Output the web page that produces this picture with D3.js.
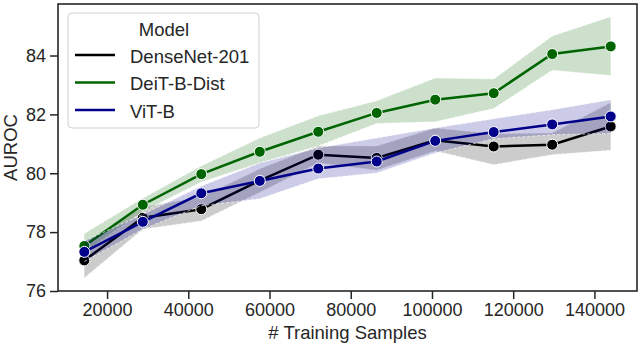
<!DOCTYPE html>
<html lang="en">
	<head>
		<meta charset="UTF-8">
		<title>AUROC vs training samples</title>
		<script src="https://cdnjs.cloudflare.com/ajax/libs/d3/7.8.5/d3.min.js"></script>
		<style>
			body {margin: 0; background: #fff;}
			text {font-family: "Liberation Sans", Arial, sans-serif; fill: #262626;}
		</style>
		<script>
var samples = [14400, 28800, 43200, 57600, 72000, 86400, 100800, 115200, 129600, 144000];

var models = ["DenseNet-201", "DeiT-B-Dist", "ViT-B"];
var colors = ["#000000", "#006400", "#00008b"];

var densenet   = [77.04, 78.49, 78.78, 79.75, 80.63, 80.52, 81.12, 80.91, 80.97, 81.59];
var densenetLo = [76.44, 78.10, 78.38, 79.35, 80.35, 80.10, 80.76, 80.29, 80.63, 80.78];
var densenetHi = [77.65, 78.85, 79.20, 80.15, 80.93, 80.93, 81.54, 81.34, 81.37, 82.40];

var deit   = [77.53, 78.93, 79.97, 80.73, 81.41, 82.05, 82.50, 82.72, 84.05, 84.31];
var deitLo = [77.30, 78.70, 79.70, 80.35, 80.93, 81.69, 81.75, 82.20, 83.50, 83.32];
var deitHi = [77.95, 79.15, 80.25, 81.20, 81.95, 82.46, 83.24, 83.20, 84.66, 85.32];

var vit   = [77.33, 78.35, 79.32, 79.74, 80.16, 80.40, 81.10, 81.40, 81.66, 81.93];
var vitLo = [77.00, 78.10, 78.90, 79.13, 79.81, 80.01, 80.69, 81.17, 81.31, 81.35];
var vitHi = [77.70, 78.60, 79.57, 80.35, 80.86, 81.20, 81.54, 81.85, 82.16, 82.50];

var xTicks = [20000, 40000, 60000, 80000, 100000, 120000, 140000];
var yTicks = [76, 78, 80, 82, 84];

function drawChart() {
	var svg = d3.select("#chart");
	var left = 58, right = 637, top = 4, bottom = 291;

	var x = d3.scaleLinear().domain([7920, 150480]).range([left, right]);
	var y = d3.scaleLinear().domain([76, 85.75]).range([bottom, top]);

	var series = [
		{mean: densenet, lo: densenetLo, hi: densenetHi},
		{mean: deit, lo: deitLo, hi: deitHi},
		{mean: vit, lo: vitLo, hi: vitHi}
	];

	var area = d3.area()
		.x(function(d) {return x(d.x);})
		.y0(function(d) {return y(d.lo);})
		.y1(function(d) {return y(d.hi);});
	var line = d3.line()
		.x(function(d) {return x(d.x);})
		.y(function(d) {return y(d.y);});

	var plot = svg.append("g");

	series.forEach(function(s, k) {
		var band = samples.map(function(v, i) {return {x: v, lo: s.lo[i], hi: s.hi[i]};});
		var pts = samples.map(function(v, i) {return {x: v, y: s.mean[i]};});
		var c = d3.color(colors[k]);

		plot.append("path").datum(band)
			.attr("d", area)
			.attr("fill", c).attr("fill-opacity", 0.2);

		["lo", "hi"].forEach(function(key) {
			plot.append("path")
				.datum(band.map(function(d) {return {x: d.x, y: d[key]};}))
				.attr("d", line)
				.attr("fill", "none").attr("stroke", "#fff")
				.attr("stroke-width", 0.8).attr("stroke-dasharray", "3,2")
				.attr("stroke-opacity", 0.8);
		});

		plot.append("path").datum(pts)
			.attr("d", line)
			.attr("fill", "none").attr("stroke", colors[k]).attr("stroke-width", 2.5);

		plot.selectAll(null).data(pts).enter().append("circle")
			.attr("cx", function(d) {return x(d.x);})
			.attr("cy", function(d) {return y(d.y);})
			.attr("r", 5.5)
			.attr("fill", colors[k]).attr("stroke", "#fff").attr("stroke-width", 1);
	});

	// axes
	var xAxis = d3.axisBottom(x).tickValues(xTicks).tickSize(8).tickPadding(4).tickFormat(d3.format("d"));
	var yAxis = d3.axisLeft(y).tickValues(yTicks).tickSize(8).tickPadding(4).tickFormat(d3.format("d"));

	var gx = svg.append("g").attr("transform", "translate(0," + bottom + ")").call(xAxis);
	var gy = svg.append("g").attr("transform", "translate(" + left + ",0)").call(yAxis);
	[gx, gy].forEach(function(g) {
		g.select(".domain").remove();
		g.selectAll(".tick line").attr("stroke", "#262626").attr("stroke-width", 1.5);
		g.selectAll(".tick text").attr("font-size", 18).attr("fill", "#262626");
	});

	svg.append("rect")
		.attr("x", left).attr("y", top)
		.attr("width", right - left).attr("height", bottom - top)
		.attr("fill", "none").attr("stroke", "#262626").attr("stroke-width", 1.6);

	svg.append("text")
		.attr("x", (left + right) / 2).attr("y", 339)
		.attr("text-anchor", "middle").attr("font-size", 18.5)
		.text("# Training Samples");

	svg.append("text")
		.attr("transform", "translate(17," + ((top + bottom) / 2) + ") rotate(-90)")
		.attr("text-anchor", "middle").attr("font-size", 18.5)
		.text("AUROC");

	// legend
	var lg = svg.append("g");
	lg.append("rect")
		.attr("x", 68).attr("y", 13).attr("width", 191).attr("height", 115)
		.attr("rx", 4).attr("fill", "#fff").attr("fill-opacity", 0.8)
		.attr("stroke", "#d0d0d0").attr("stroke-width", 1);
	lg.append("text")
		.attr("x", 164).attr("y", 36)
		.attr("text-anchor", "middle").attr("font-size", 18.5)
		.text("Model");
	models.forEach(function(m, k) {
		var ly = 55 + k * 27.5;
		lg.append("line")
			.attr("x1", 75).attr("x2", 115).attr("y1", ly).attr("y2", ly)
			.attr("stroke", colors[k]).attr("stroke-width", 2.5);
		lg.append("text")
			.attr("x", 130).attr("y", ly + 7.5)
			.attr("font-size", 18.5)
			.text(m);
	});
}
		</script>
	</head>
	<body onload="drawChart()">
		<svg id="chart" width="640" height="346"></svg>
	</body>
</html>
